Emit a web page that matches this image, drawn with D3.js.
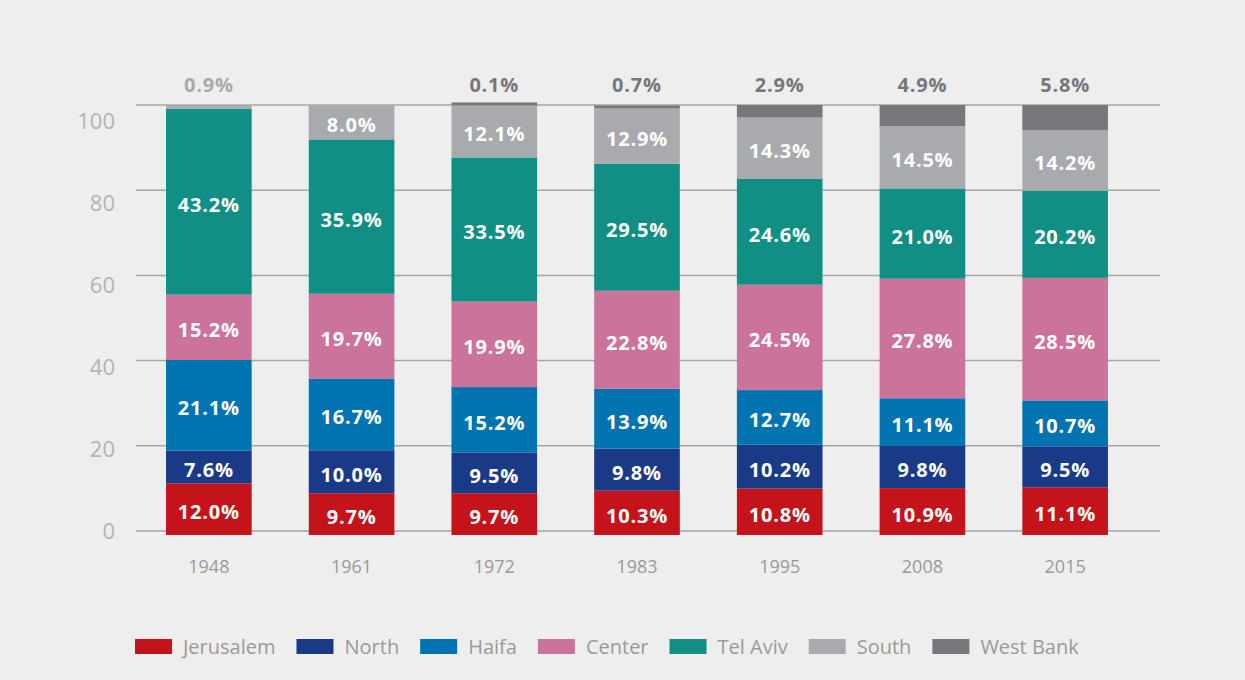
<!DOCTYPE html>
<html>
<head>
<meta charset="utf-8">
<script src="https://cdn.jsdelivr.net/npm/d3@7"></script>
<style>
  body { margin: 0; background: #eeeeee; }
  svg { display: block; font-family: "Open Sans", sans-serif; }
</style>
</head>
<body>
<div id="chart"></div>
<script>
const years = ["1948", "1961", "1972", "1983", "1995", "2008", "2015"];
const regions = ["Jerusalem", "North", "Haifa", "Center", "Tel Aviv", "South", "West Bank"];
const colors = ["#c4131b", "#1a3a87", "#0073b0", "#cc739b", "#118f84", "#a9aaad", "#77777b"];

// share of each region per year (%)
const jerusalem = [12.0, 9.7, 9.7, 10.3, 10.8, 10.9, 11.1];
const north     = [7.6, 10.0, 9.5, 9.8, 10.2, 9.8, 9.5];
const haifa     = [21.1, 16.7, 15.2, 13.9, 12.7, 11.1, 10.7];
const center    = [15.2, 19.7, 19.9, 22.8, 24.5, 27.8, 28.5];
const telAviv   = [43.2, 35.9, 33.5, 29.5, 24.6, 21.0, 20.2];
const south     = [0.9, 8.0, 12.1, 12.9, 14.3, 14.5, 14.2];
const westBank  = [0, 0, 0.1, 0.7, 2.9, 4.9, 5.8];
const yTicks = [0, 20, 40, 60, 80, 100];

const series = [jerusalem, north, haifa, center, telAviv, south, westBank];

const W = 1245, H = 680;
const svg = d3.select("#chart").append("svg")
    .attr("width", W).attr("height", H)
    .style("background", "#eeeeee");

const x = d3.scaleBand().domain(years).range([137.5, 1136.5])
    .paddingInner(0.4).paddingOuter(0.2);
// gridline scale, tick label scale and bar scale (they don't line up exactly in the original)
const yGrid = d3.scaleLinear().domain([0, 100]).range([531, 105]);
const yLabel = d3.scaleLinear().domain([0, 100]).range([531, 121]);
const y = d3.scaleLinear().domain([0, 100]).range([535, 105]);

// gridlines
svg.append("g").selectAll("line").data(yTicks).enter().append("line")
    .attr("x1", 136).attr("x2", 1160)
    .attr("y1", d => yGrid(d)).attr("y2", d => yGrid(d))
    .attr("stroke", "#a6a6a6").attr("stroke-width", 1.5);

svg.append("g").selectAll("text").data(yTicks).enter().append("text")
    .attr("x", 115).attr("y", d => yLabel(d) + 8)
    .attr("text-anchor", "end")
    .attr("font-size", 22)
    .attr("fill", "#b3b3b3")
    .text(d => d);

// x labels
svg.append("g").selectAll("text").data(years).enter().append("text")
    .attr("x", d => x(d) + x.bandwidth() / 2).attr("y", 573)
    .attr("text-anchor", "middle")
    .attr("font-size", 18)
    .attr("fill", "#9a9a9a")
    .text(d => d);

// stacked data
const rows = years.map((yr, i) => {
  const r = { year: yr };
  regions.forEach((reg, j) => r[reg] = series[j][i]);
  return r;
});
const stacked = d3.stack().keys(regions)(rows);

const layers = svg.append("g").selectAll("g").data(stacked).enter().append("g")
    .attr("fill", (d, i) => colors[i]);

layers.selectAll("rect").data(d => d.filter(s => s[1] - s[0] > 0)).enter().append("rect")
    .attr("x", d => x(d.data.year))
    .attr("width", x.bandwidth())
    .attr("y", d => Math.min(y(d[1]), y(d[0]) - 3))
    .attr("height", d => Math.max(y(d[0]) - y(d[1]), 3));

// labels
stacked.forEach((layer, i) => {
  layer.forEach(s => {
    const v = s[1] - s[0];
    if (v <= 0) return;
    const cx = x(s.data.year) + x.bandwidth() / 2;
    if (v >= 7) {
      svg.append("text")
        .attr("x", cx).attr("y", (y(s[0]) + y(s[1])) / 2 + 10)
        .attr("text-anchor", "middle")
        .attr("font-size", 20).attr("font-weight", 700)
        .attr("letter-spacing", 0.8)
        .attr("fill", "#ffffff")
        .text(v.toFixed(1) + "%");
    } else {
      svg.append("text")
        .attr("x", cx).attr("y", 92)
        .attr("text-anchor", "middle")
        .attr("font-size", 20).attr("font-weight", 700)
        .attr("letter-spacing", 0.8)
        .attr("fill", colors[i])
        .text(v.toFixed(1) + "%");
    }
  });
});

// legend
const legend = svg.append("g");
let lx = 135;
regions.forEach((reg, i) => {
  legend.append("rect")
    .attr("x", lx).attr("y", 639).attr("width", 37).attr("height", 15)
    .attr("fill", colors[i]);
  const t = legend.append("text")
    .attr("x", lx + 48).attr("y", 654)
    .attr("font-size", 20)
    .attr("fill", "#9a9a9a")
    .text(reg);
  lx += 48 + t.node().getComputedTextLength() + 21;
});
</script>
</body>
</html>
